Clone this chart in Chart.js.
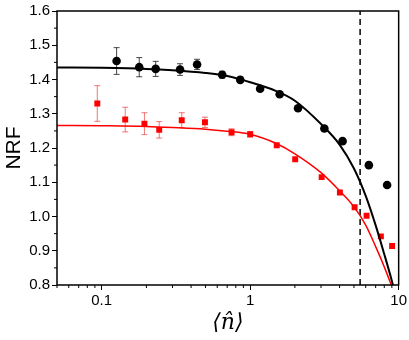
<!DOCTYPE html>
<html>
<head>
<meta charset="utf-8">
<script src="https://cdn.jsdelivr.net/npm/chart.js@4"></script>
<style>
  html,body{margin:0;padding:0;background:#fff;}
  #wrap{width:409px;height:340px;}
</style>
</head>
<body>
<div id="wrap"><canvas id="chart"></canvas></div>
<script>
// measured points (black circles)
const blackN   = [0.126,0.179,0.231,0.337,0.439,0.648,0.857,1.167,1.58,2.1,3.16,4.19,6.3,8.36];
const blackNRF = [1.454,1.436,1.431,1.429,1.444,1.414,1.399,1.373,1.357,1.316,1.257,1.220,1.150,1.092];
const blackErr = [0.039,0.028,0.022,0.017,0.015,0.010,0.008,0,0,0,0,0,0,0];

// measured points (red squares)
const redN   = [0.0934,0.144,0.194,0.244,0.346,0.496,0.749,1.0,1.51,2.01,3.03,4.02,5.05,6.08,7.59,9.03];
const redNRF = [1.330,1.283,1.271,1.253,1.281,1.275,1.246,1.240,1.208,1.167,1.115,1.070,1.027,1.002,0.942,0.914];
const redErr = [0.052,0.036,0.032,0.024,0.022,0.015,0.010,0.008,0,0,0,0,0,0,0,0];

// fitted curves
const fitN     = [0.05,0.1,0.2,0.3,0.5,0.7,1,1.5,2,3,4,5,6,7,8,9,9.5];
const fitBlack = [1.435,1.434,1.431,1.427,1.419,1.410,1.392,1.366,1.338,1.270,1.210,1.140,1.060,0.974,0.890,0.812,0.772];
const fitRed   = [1.266,1.265,1.263,1.260,1.255,1.249,1.240,1.213,1.183,1.128,1.075,1.028,0.975,0.912,0.853,0.795,0.765];

const dashN = 5.5;
const xMajor = [0.1,1,10];
const xMinor = [0.05,0.06,0.07,0.08,0.09,0.2,0.3,0.4,0.5,0.6,0.7,0.8,0.9,2,3,4,5,6,7,8,9];
const yMinor = [0.85,0.95,1.05,1.15,1.25,1.35,1.45,1.55];

const pts = (xs,ys)=>xs.map((x,i)=>({x:x,y:ys[i]}));

const errorBars = {
  id:'errorBars',
  beforeDatasetsDraw(chart){
    const {ctx,scales:{x,y}} = chart;
    const sets = [[blackN,blackNRF,blackErr,'rgba(40,40,40,0.85)'],[redN,redNRF,redErr,'rgba(235,60,60,0.7)']];
    ctx.save();
    ctx.lineWidth = 1;
    sets.forEach(([xs,ys,es,col])=>{
      ctx.strokeStyle = col;
      xs.forEach((v,i)=>{
        if(!es[i]) return;
        const px = x.getPixelForValue(v);
        const t = y.getPixelForValue(ys[i]+es[i]);
        const b = y.getPixelForValue(ys[i]-es[i]);
        ctx.beginPath();
        ctx.moveTo(px,t); ctx.lineTo(px,b);
        ctx.moveTo(px-3,t); ctx.lineTo(px+3,t);
        ctx.moveTo(px-3,b); ctx.lineTo(px+3,b);
        ctx.stroke();
      });
    });
    ctx.restore();
  }
};

const frame = {
  id:'frame',
  afterDraw(chart){
    const {ctx,chartArea:a,scales:{x,y}} = chart;
    ctx.save();
    ctx.strokeStyle = '#000';
    ctx.lineWidth = 1.5;
    ctx.strokeRect(a.left,a.top,a.right-a.left,a.bottom-a.top);
    ctx.lineWidth = 1;
    ctx.beginPath();
    xMinor.forEach(v=>{
      const px = x.getPixelForValue(v);
      ctx.moveTo(px,a.bottom); ctx.lineTo(px,a.bottom+3);
    });
    yMinor.forEach(v=>{
      const py = y.getPixelForValue(v);
      ctx.moveTo(a.left,py); ctx.lineTo(a.left-3,py);
    });
    ctx.stroke();
    ctx.restore();
  }
};

new Chart(document.getElementById('chart'),{
  type:'scatter',
  data:{
    datasets:[
      {data:pts(fitN,fitBlack),showLine:true,borderColor:'#000',borderWidth:2,pointRadius:0,cubicInterpolationMode:'monotone'},
      {data:pts(fitN,fitRed),showLine:true,borderColor:'#ff0000',borderWidth:1.5,pointRadius:0,cubicInterpolationMode:'monotone'},
      {data:[{x:dashN,y:0.8},{x:dashN,y:1.6}],showLine:true,borderColor:'#000',borderWidth:1.5,borderDash:[6,4],pointRadius:0},
      {data:pts(blackN,blackNRF),pointStyle:'circle',pointRadius:4.3,backgroundColor:'#000',borderColor:'#000',borderWidth:0},
      {data:pts(redN,redNRF),pointStyle:'rect',pointRadius:4.2,backgroundColor:'#ff0000',borderColor:'#ff0000',borderWidth:0}
    ]
  },
  options:{
    responsive:true,
    maintainAspectRatio:false,
    animation:false,
    layout:{padding:{top:7,right:9,left:0,bottom:0}},
    plugins:{legend:{display:false},tooltip:{enabled:false}},
    scales:{
      x:{
        type:'logarithmic',min:0.05,max:10,
        afterBuildTicks(s){ s.ticks = xMajor.map(v=>({value:v})); },
        afterFit(s){ s.height = 55; },
        ticks:{color:'#000',font:{family:'Liberation Sans',size:15},padding:2,maxRotation:0,
          callback:v=>String(v)},
        grid:{drawOnChartArea:false,tickLength:5,color:'#000',tickWidth:1},
        border:{display:false},
        title:{display:true,text:'⟨n̂⟩',color:'#000',font:{family:'DejaVu Serif',size:22,style:'italic'},padding:{top:0}}
      },
      y:{
        min:0.8,max:1.6,
        afterBuildTicks(s){ s.ticks = [0.8,0.9,1.0,1.1,1.2,1.3,1.4,1.5,1.6].map(v=>({value:v})); },
        afterFit(s){ s.width = 57; },
        ticks:{color:'#000',font:{family:'Liberation Sans',size:15},padding:2,callback:v=>Number(v).toFixed(1)},
        grid:{drawOnChartArea:false,tickLength:5,color:'#000',tickWidth:1},
        border:{display:false},
        title:{display:true,text:'NRF',color:'#000',font:{family:'Liberation Sans',size:21},padding:{bottom:0,top:2}}
      }
    }
  },
  plugins:[errorBars,frame]
});
</script>
</body>
</html>
